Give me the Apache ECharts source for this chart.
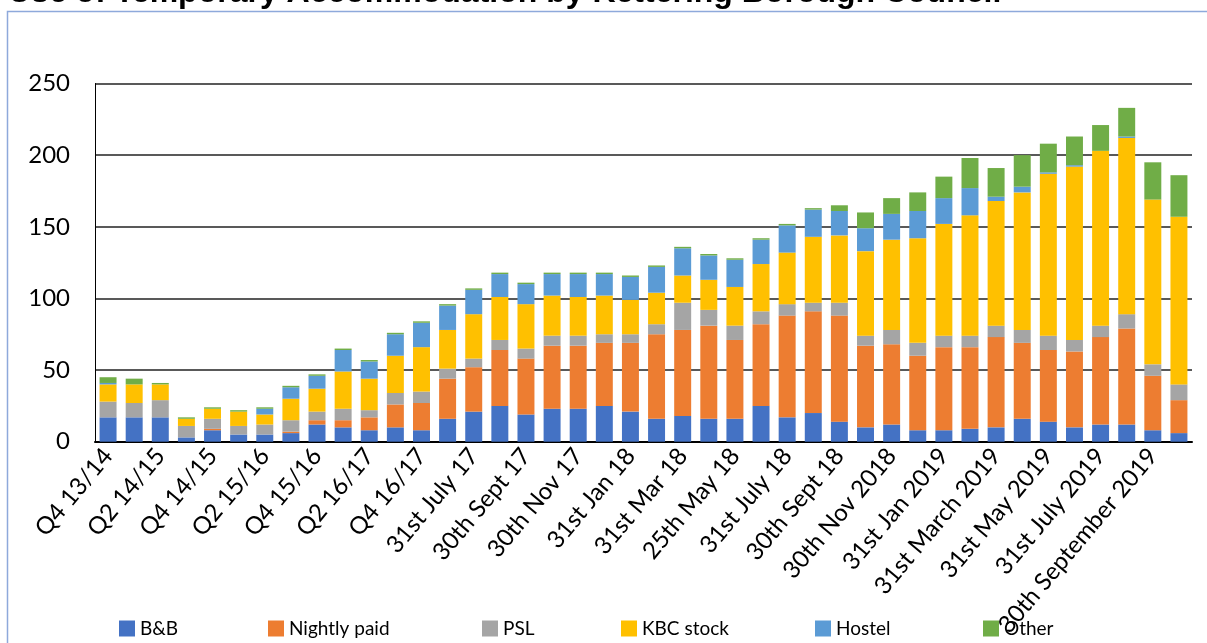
<!DOCTYPE html>
<html>
<head>
<meta charset="utf-8">
<title>Use of Temporary Accommodation by Kettering Borough Council</title>
<script src="https://cdn.jsdelivr.net/npm/echarts@6/dist/echarts.min.js"></script>
<style>
    html, body { margin: 0; padding: 0; background: #fff; }
    #main { width: 1207px; height: 643px; }
</style>
</head>
<body>
<div id="main"></div>
<script>
// categories (only every other one is labelled on the axis)
var categories = [
    "Q4 13/14", "Q1 14/15", "Q2 14/15", "Q3 14/15", "Q4 14/15", "Q1 15/16",
    "Q2 15/16", "Q3 15/16", "Q4 15/16", "Q1 16/17", "Q2 16/17", "Q3 16/17",
    "Q4 16/17", "30th June 17", "31st July 17", "31st Aug 17", "30th Sept 17", "31st Oct 17",
    "30th Nov 17", "31st Dec 17", "31st Jan 18", "28th Feb 18", "31st Mar 18", "30th April 18",
    "25th May 18", "30th June 18", "31st July 18", "31st Aug 18", "30th Sept 18", "31st Oct 18",
    "30th Nov 2018", "31st Dec 2018", "31st Jan 2019", "28th Feb 2019", "31st March 2019", "30th April 2019",
    "31st May 2019", "30th June 2019", "31st July 2019", "31st August 2019", "30th September 2019", "31st October 2019"
];

var bnb = [17, 17, 17, 3, 8, 5, 5, 6, 12, 10, 8, 10, 8, 16, 21, 25, 19, 23, 23, 25, 21,
    16, 18, 16, 16, 25, 17, 20, 14, 10, 12, 8, 8, 9, 10, 16, 14, 10, 12, 12, 8, 6];
var nightlyPaid = [0, 0, 0, 0, 1, 0, 0, 1, 3, 5, 9, 16, 19, 28, 31, 39, 39, 44, 44, 44, 48,
    59, 60, 65, 55, 57, 71, 71, 74, 57, 56, 52, 58, 57, 63, 53, 50, 53, 61, 67, 38, 23];
var psl = [11, 10, 12, 8, 7, 6, 7, 8, 6, 8, 5, 8, 8, 7, 6, 7, 7, 7, 7, 6, 6,
    7, 19, 11, 10, 9, 8, 6, 9, 7, 10, 9, 8, 8, 8, 9, 10, 8, 8, 10, 8, 11];
var kbcStock = [12, 13, 11, 5, 7, 10, 7, 15, 16, 26, 22, 26, 31, 27, 31, 30, 31, 28, 27, 27, 24,
    22, 19, 21, 27, 33, 36, 46, 47, 59, 63, 73, 78, 84, 87, 96, 113, 121, 122, 123, 115, 117];
var hostel = [1, 0, 0, 0, 0, 0, 4, 8, 9, 15, 12, 15, 17, 17, 17, 16, 14, 15, 16, 15, 16,
    18, 19, 17, 19, 17, 19, 19, 17, 16, 18, 19, 18, 19, 3, 4, 1, 1, 0, 1, 0, 0];
var other = [4, 4, 1, 1, 1, 1, 1, 1, 1, 1, 1, 1, 1, 1, 1, 1, 1, 1, 1, 1, 1,
    1, 1, 1, 1, 1, 1, 1, 4, 11, 11, 13, 15, 21, 20, 22, 20, 20, 18, 20, 26, 29];

var yTicks = [0, 50, 100, 150, 200, 250];

var seriesNames = ["B&B", "Nightly paid", "PSL", "KBC stock", "Hostel", "Other"];
var seriesData = [bnb, nightlyPaid, psl, kbcStock, hostel, other];
var colors = ["#4472C4", "#ED7D31", "#A5A5A5", "#FFC000", "#5B9BD5", "#70AD47"];
// legend slots as laid out in the original (x of each swatch)
var legendLeft = [119, 268, 482, 621, 815, 983];

var labelFont = "Lato";

var chart = echarts.init(document.getElementById("main"));

var series = seriesNames.map(function (name, i) {
    return {
        name: name,
        type: "bar",
        stack: "total",
        barCategoryGap: "35%",
        data: seriesData[i],
        itemStyle: { color: colors[i] }
    };
});

var legends = seriesNames.map(function (name, i) {
    return {
        data: [name],
        left: legendLeft[i],
        top: 619,
        padding: 0,
        itemWidth: 16,
        itemHeight: 16,
        itemGap: 8,
        icon: "rect",
        textStyle: { fontFamily: labelFont, fontSize: 19, color: "#000" }
    };
});

var option = {
    animation: false,
    // title sits mostly above the picture, only its lower edge shows
    title: {
        text: "Use of Temporary Accommodation by Kettering Borough Council",
        left: 3,
        top: -28,
        textStyle: {
            fontFamily: "Liberation Sans",
            fontWeight: "bold",
            fontSize: 32,
            color: "#000"
        }
    },
    graphic: [{
        type: "rect",
        silent: true,
        z: -1,
        shape: { x: 7.5, y: 11.5, width: 1300, height: 700 },
        style: { fill: "none", stroke: "#8EA9DB", lineWidth: 1.5 }
    }],
    legend: legends,
    grid: {
        left: 95,
        right: 15,
        top: 83.5,
        bottom: 201.3,
        containLabel: false,
        outerBoundsMode: "none"
    },
    xAxis: {
        type: "category",
        data: categories,
        axisLine: { lineStyle: { color: "#000", width: 2 } },
        axisTick: { show: false },
        axisLabel: {
            interval: 1,
            rotate: 50,
            margin: 10,
            fontFamily: labelFont,
            fontSize: 24,
            color: "#000"
        }
    },
    yAxis: {
        type: "value",
        min: yTicks[0],
        max: yTicks[yTicks.length - 1],
        interval: 50,
        axisLine: { show: true, lineStyle: { color: "#000", width: 1 } },
        axisTick: { show: false },
        splitLine: { lineStyle: { color: "#222", width: 1.5 } },
        axisLabel: {
            margin: 25,
            fontFamily: labelFont,
            fontSize: 24,
            color: "#000"
        }
    },
    series: series
};

chart.setOption(option);
</script>
</body>
</html>
